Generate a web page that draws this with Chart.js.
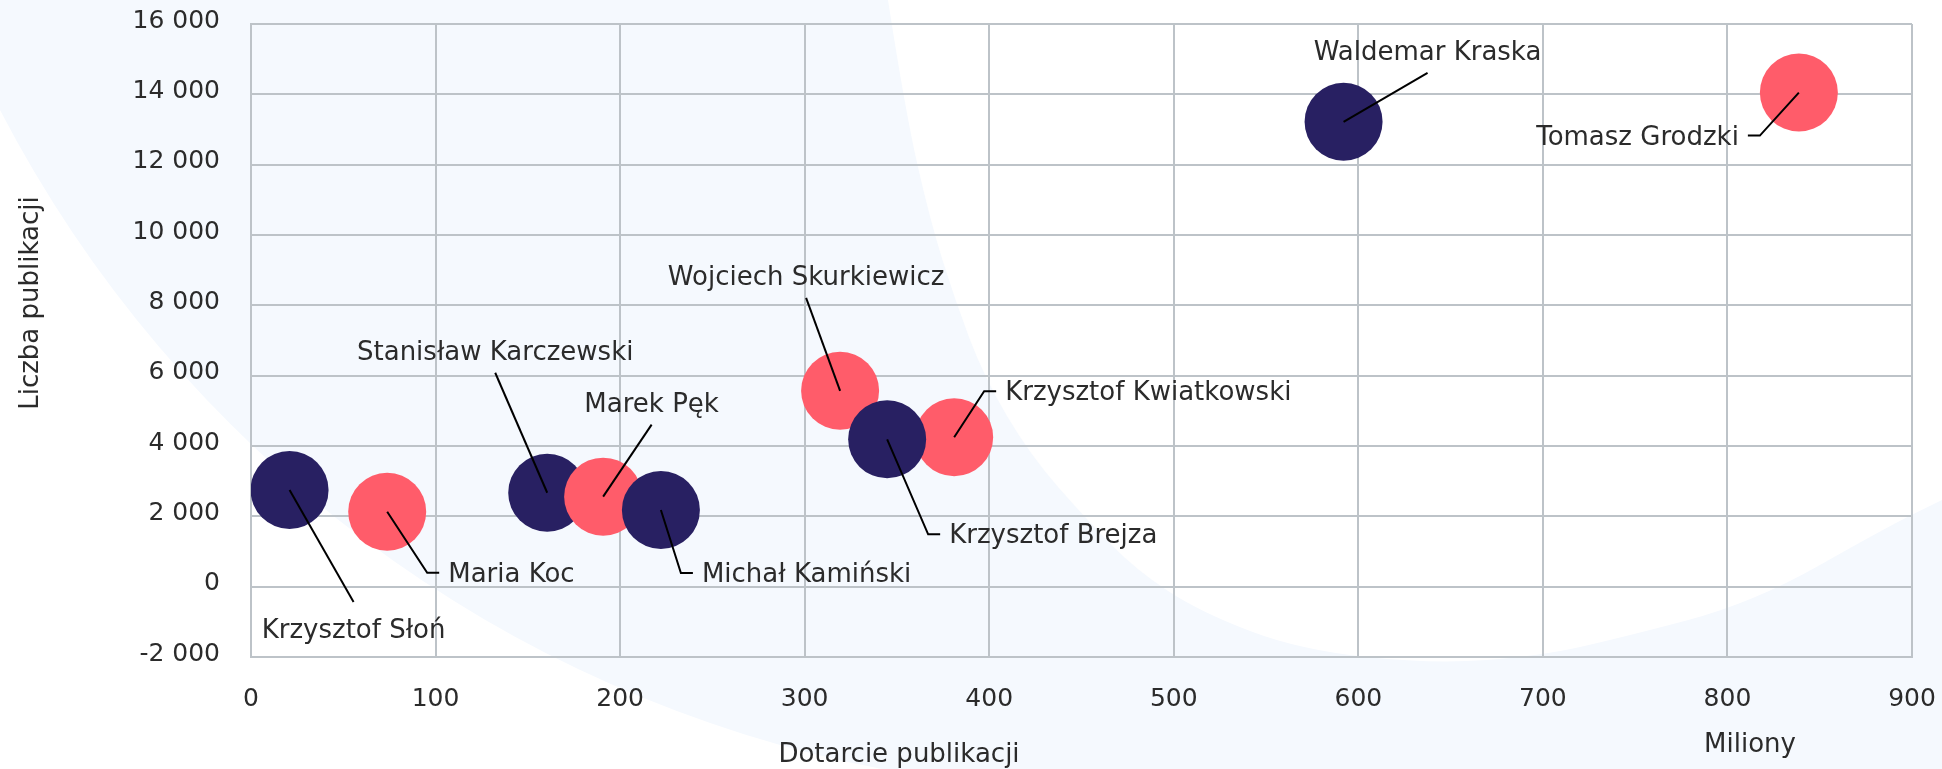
<!DOCTYPE html>
<html><head><meta charset="utf-8">
<script src="https://cdn.jsdelivr.net/npm/chart.js@4"></script>
<style>html,body{margin:0;padding:0;background:#fff;overflow:hidden}#wrap{width:1942px;height:769px;position:relative}</style>
</head><body><div id="wrap"><canvas id="c"></canvas></div>
<script>
// ---- data ----
const names = ['Tomasz Grodzki','Waldemar Kraska','Wojciech Skurkiewicz','Krzysztof Kwiatkowski','Krzysztof Brejza','Krzysztof Słoń','Stanisław Karczewski','Marek Pęk','Michał Kamiński','Maria Koc'];
const reachMln = [838.7, 592, 319.2, 381, 344.7, 20.9, 160.5, 190.8, 222.1, 73.8];
const publications = [14050, 13220, 5570, 4250, 4190, 2750, 2670, 2560, 2180, 2130];
const colorGroup = [0, 1, 0, 0, 1, 1, 1, 0, 1, 0];
const xTickValues = [0,100,200,300,400,500,600,700,800,900];
const xTickLabels = ['0','100','200','300','400','500','600','700','800','900'];
const yTickValues = [-2000,0,2000,4000,6000,8000,10000,12000,14000,16000];
const yTickLabels = ['-2 000','0','2 000','4 000','6 000','8 000','10 000','12 000','14 000','16 000'];
const xTitle = 'Dotarcie publikacji';
const xUnit = 'Miliony';
const yTitle = 'Liczba publikacji';

// ---- styles ----
const palette = ['#FF5C6A', '#282062'];
const FONT = '"DejaVu Sans", sans-serif';
const TEXT = '#2B2B2B';
const GRID = '#BDC3C8';
const BG_BLUE = '#F5F9FE';
const labelLayout = {
  'Krzysztof Słoń': {dx:64, dy:112, side:'below'},
  'Maria Koc': {dx:40, dy:61, side:'right'},
  'Stanisław Karczewski': {dx:-52, dy:-120, side:'above'},
  'Marek Pęk': {dx:48.5, dy:-72, side:'above'},
  'Michał Kamiński': {dx:20, dy:63, side:'right'},
  'Wojciech Skurkiewicz': {dx:-34, dy:-93, side:'above'},
  'Krzysztof Brejza': {dx:41, dy:95, side:'right'},
  'Krzysztof Kwiatkowski': {dx:30, dy:-46, side:'right'},
  'Waldemar Kraska': {dx:84, dy:-49, side:'above'},
  'Tomasz Grodzki': {dx:-39, dy:43, side:'left'}
};

const bgPlugin = {
  id:'bg',
  beforeDraw(chart){
    const ctx = chart.ctx, W = chart.width, H = chart.height;
    ctx.save();
    ctx.fillStyle = BG_BLUE; ctx.fillRect(0,0,W,H);
    ctx.fillStyle = '#FFFFFF';
    const cx = 1122, cy = -472, R = 1264;
    ctx.beginPath();
    ctx.moveTo(0, H);
    ctx.lineTo(0, 110);
    ctx.arc(cx, cy, R, Math.atan2(110-cy, 0-cx), Math.atan2(H-cy, 882-cx), true);
    ctx.lineTo(0, H);
    ctx.closePath(); ctx.fill();
    const pts = [[888,0],[905,110],[930,220],[955,300],[984,377],[1030,455],[1087,520],[1136,570],[1200,612],[1300,650],[1433,664],[1540,656],[1620,638],[1753,603],[1887,527],[1942,500]];
    ctx.beginPath();
    ctx.moveTo(pts[0][0], pts[0][1]);
    for (let i=1;i<pts.length-1;i++){
      const mx = (pts[i][0]+pts[i+1][0])/2, my = (pts[i][1]+pts[i+1][1])/2;
      ctx.quadraticCurveTo(pts[i][0], pts[i][1], mx, my);
    }
    ctx.lineTo(pts[pts.length-1][0], pts[pts.length-1][1]);
    ctx.lineTo(W, 0);
    ctx.closePath(); ctx.fill();
    ctx.restore();
  }
};

const labelPlugin = {
  id:'labels',
  afterDatasetsDraw(chart){
    const ctx = chart.ctx;
    const meta = chart.getDatasetMeta(0);
    ctx.save();
    ctx.strokeStyle = '#000'; ctx.lineWidth = 2;
    ctx.fillStyle = TEXT;
    ctx.font = '26px ' + FONT;
    ctx.textBaseline = 'alphabetic';
    meta.data.forEach((el, i) => {
      const L = labelLayout[names[i]];
      const ex = el.x + L.dx, ey = el.y + L.dy;
      ctx.beginPath(); ctx.moveTo(el.x, el.y); ctx.lineTo(ex, ey);
      if (L.side === 'right') ctx.lineTo(ex + 12, ey);
      if (L.side === 'left') ctx.lineTo(ex - 12, ey);
      ctx.stroke();
      if (L.side === 'right') { ctx.textAlign = 'left'; ctx.fillText(names[i], ex + 21, ey + 9); }
      else if (L.side === 'left') { ctx.textAlign = 'right'; ctx.fillText(names[i], ex - 21, ey + 9); }
      else if (L.side === 'above') { ctx.textAlign = 'center'; ctx.fillText(names[i], ex, ey - 12.5); }
      else { ctx.textAlign = 'center'; ctx.fillText(names[i], ex, ey + 36); }
    });
    ctx.textAlign = 'center';
    ctx.fillText(xTitle, 899, 762);
    ctx.fillText(xUnit, 1750, 752);
    ctx.translate(38, 303); ctx.rotate(-Math.PI/2);
    ctx.fillText(yTitle, 0, 0);
    ctx.restore();
  }
};

new Chart(document.getElementById('c'), {
  type:'bubble',
  data:{ datasets:[{
    data: names.map((n,i)=>({x:reachMln[i], y:publications[i]})),
    backgroundColor: colorGroup.map(g=>palette[g]),
    borderWidth:0, radius:39, hoverRadius:0
  }]},
  options:{
    responsive:true, maintainAspectRatio:false, animation:false, events:[],
    layout:{autoPadding:false, padding:{left:0, top:24, right:30, bottom:0}},
    plugins:{legend:{display:false}, tooltip:{enabled:false}},
    scales:{
      x:{ type:'linear', min:0, max:900,
        grid:{color:GRID, lineWidth:2, drawTicks:false},
        border:{color:GRID, width:2},
        afterBuildTicks:s=>{ s.ticks = xTickValues.map(v=>({value:v})); },
        ticks:{ padding:27, color:TEXT, font:{family:FONT, size:25}, maxRotation:0, autoSkip:false,
          callback:(v,i)=>xTickLabels[xTickValues.indexOf(v)] },
        afterFit:s=>{ s.height = 112; s.paddingLeft = 0; s.paddingRight = 0; }
      },
      y:{ type:'linear', min:-2000, max:16000,
        grid:{color:GRID, lineWidth:2, drawTicks:false},
        border:{color:GRID, width:2},
        afterBuildTicks:s=>{ s.ticks = yTickValues.map(v=>({value:v})); },
        ticks:{ padding:31, labelOffset:-3, color:TEXT, font:{family:FONT, size:25}, autoSkip:false,
          callback:(v,i)=>yTickLabels[yTickValues.indexOf(v)] },
        afterFit:s=>{ s.width = 251; s.paddingTop = 0; s.paddingBottom = 0; }
      }
    }
  },
  plugins:[bgPlugin, labelPlugin]
});
</script></body></html>
